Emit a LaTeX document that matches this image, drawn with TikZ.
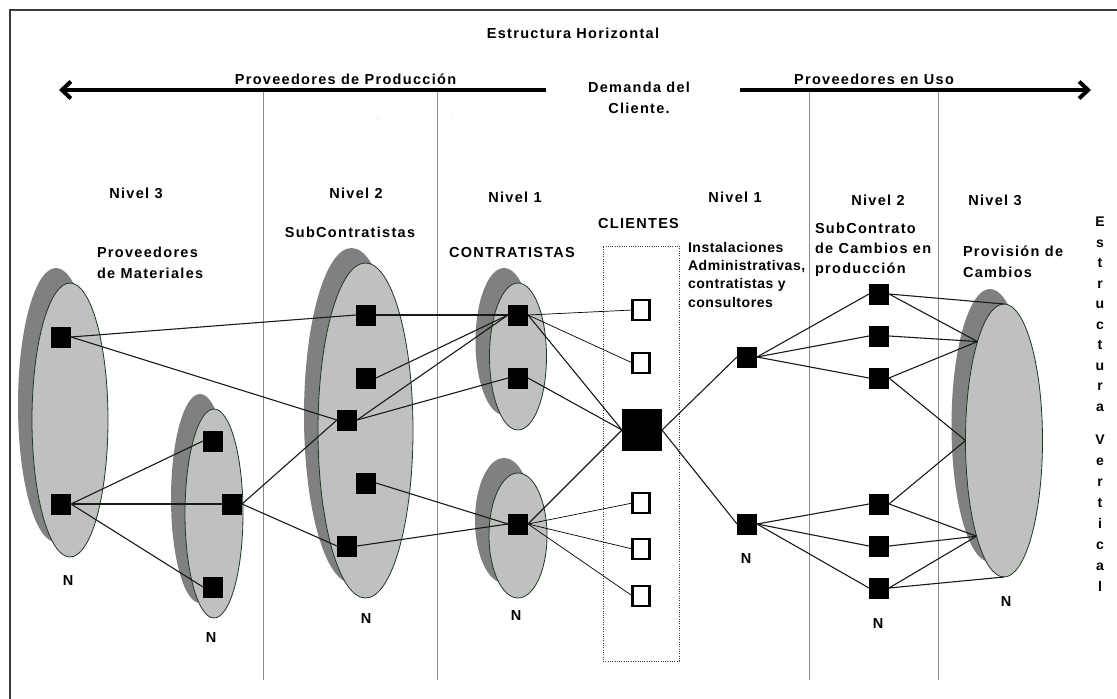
\documentclass[tikz,border=0pt]{standalone}
\usepackage{fontspec}
\setmainfont{Liberation Sans}[LetterSpace=9]
\usetikzlibrary{shapes.geometric,arrows.meta,shadows}

\definecolor{shadowgray}{HTML}{808080}
\definecolor{fillgray}{HTML}{C0C0C0}
\definecolor{rimcol}{HTML}{1E3A1E}
\definecolor{linkcol}{HTML}{141C14}
\definecolor{guidegray}{HTML}{8C8C8C}
\definecolor{framecol}{HTML}{3C3C3C}

\begin{document}
\begin{tikzpicture}[x=1pt,y=-1pt,
  every node/.style={inner sep=0pt, outer sep=0pt},
  lbl/.style={font=\fontsize{14.5}{20}\selectfont\bfseries, anchor=base},
  blk/.style={font=\fontsize{14.5}{#1}\selectfont\bfseries, anchor=north west, align=left},
  group/.style={ellipse, draw=rimcol, line width=0.8pt, fill=fillgray,
    general shadow={fill=shadowgray, shadow xshift=-14pt, shadow yshift=15pt}},
  firm/.style={rectangle, fill=black, minimum width=20pt, minimum height=21pt},
  client/.style={rectangle, draw=black, line width=2.6pt, fill=white,
    minimum width=17pt, minimum height=20pt},
  link/.style={draw=linkcol, line width=1.1pt},
  thinlink/.style={draw=black, line width=0.7pt},
  guide/.style={draw=guidegray, line width=0.8pt},
  flow/.style={line width=4pt, -{Straight Barb[length=9pt, width=17pt]}}
]
\useasboundingbox (0,0) rectangle (1117,699);

% outer frame (top and left edges)
\draw[framecol, line width=1.3pt] (10,699) -- (10,10) -- (1117,10);

% level separators
\draw[guide] (263,90) -- (263,680);
\draw[guide] (437.5,90) -- (437.5,680);
\draw[guide] (809,90) -- (809,680);
\draw[guide] (938,90) -- (938,680);

% horizontal structure arrows
\coordinate (pl0) at (546,90);
\coordinate (pl1) at (59,90);
\coordinate (pr0) at (740,90);
\coordinate (pr1) at (1091,90);
\draw[flow] (pl0) -- (pl1);
\draw[flow] (pr0) -- (pr1);

% supplier groups
\node[group, minimum width=76pt, minimum height=274pt] (matA) at (70,420) {};
\node[group, minimum width=58pt, minimum height=209pt] (matB) at (214,513.5) {};
\node[group, minimum width=95pt, minimum height=335pt] (sub) at (365.5,430.5) {};
\node[group, minimum width=57pt, minimum height=147pt] (conA) at (518,356.5) {};
\node[group, minimum width=58pt, minimum height=125pt] (conB) at (518,535.5) {};
\node[group, minimum width=77pt, minimum height=273pt] (prov) at (1004,440.5) {};

% client area
\node[draw=framecol, line width=0.8pt, dash pattern=on 1pt off 1.3pt,
      minimum width=76pt, minimum height=415pt] (clientbox) at (641,453.5) {};

% firms
\node[firm] (A1) at (61,337) {};
\node[firm] (A2) at (61,504) {};
\node[firm] (B1) at (213,441) {};
\node[firm] (B2) at (232,504) {};
\node[firm] (B3) at (213,587) {};
\node[firm] (C1) at (366,315) {};
\node[firm] (C2) at (366,378) {};
\node[firm] (C3) at (347,420) {};
\node[firm] (C4) at (366,483) {};
\node[firm] (C5) at (347,546) {};
\node[firm] (D1) at (518,315) {};
\node[firm] (D2) at (518,378) {};
\node[firm] (E1) at (518,524) {};
\node[firm] (F1) at (747,357) {};
\node[firm] (F2) at (747,524) {};
\node[firm] (G1) at (879,294) {};
\node[firm] (G2) at (879,336) {};
\node[firm] (G3) at (879,378) {};
\node[firm] (G4) at (879,504) {};
\node[firm] (G5) at (879,546) {};
\node[firm] (G6) at (879,588) {};
\node[rectangle, fill=black, minimum width=40pt, minimum height=42pt] (M) at (642,430) {};
\node[client] (K1) at (641,310) {};
\node[client] (K2) at (641,363) {};
\node[client] (K3) at (641,503) {};
\node[client] (K4) at (641,549) {};
\node[client] (K5) at (641,596) {};

% production-side links
\draw[link] (A1.east) -- (C1.west);
\draw[link] (A1.east) -- (C3.west);
\draw[link] (A2.east) -- (B1.west);
\draw[link] (A2.east) -- (B2.west);
\draw[link] (A2.east) -- (B3.west);
\draw[link] (B2.east) -- (C3.west);
\draw[link] (B2.east) -- (C5.west);
\draw[link] (C1.east) -- (D1.west);
\draw[link] (C2.east) -- (D1.west);
\draw[link] (C3.east) -- (D1.west);
\draw[link] (C3.east) -- (D2.west);
\draw[link] (C4.east) -- (E1.west);
\draw[link] (C5.east) -- (E1.west);
\draw[link] (D1.east) -- (M.west);
\draw[link] (D2.east) -- (M.west);
\draw[link] (E1.east) -- (M.west);
\draw[thinlink] (D1.east) -- (K1.west);
\draw[thinlink] (D1.east) -- (K2.west);
\draw[thinlink] (E1.east) -- (K3.west);
\draw[thinlink] (E1.east) -- (K4.west);
\draw[thinlink] (E1.east) -- (K5.west);

% use-side links
\draw[link] (M.east) -- (F1.west);
\draw[link] (M.east) -- (F2.west);
\draw[link] (F1.east) -- (G1.west);
\draw[link] (F1.east) -- (G2.west);
\draw[link] (F1.east) -- (G3.west);
\draw[link] (F2.east) -- (G4.west);
\draw[link] (F2.east) -- (G5.west);
\draw[link] (F2.east) -- (G6.west);
\draw[link] (G1.east) -- (prov.north);
\draw[link] (G1.east) -- (prov.105.5);
\draw[link] (G2.east) -- (prov.105.5);
\draw[link] (G3.east) -- (prov.105.5);
\draw[link] (G3.east) -- (prov.west);
\draw[link] (G4.east) -- (prov.west);
\draw[link] (G4.east) -- (prov.254.5);
\draw[link] (G5.east) -- (prov.254.5);
\draw[link] (G6.east) -- (prov.254.5);
\draw[link] (G6.east) -- (prov.south);

% redraw firms above their links
\foreach \f in {A1,A2,B1,B2,B3,C1,C2,C3,C4,C5,D1,D2,E1,F1,F2,G1,G2,G3,G4,G5,G6}
  \fill[black] (\f.south west) rectangle (\f.north east);
\fill[black] (M.south west) rectangle (M.north east);

% headings
\node[lbl] (title) at (573,38.5) {Estructura Horizontal};
\node[lbl] (prodarrow) at (345.5,84.5) {Proveedores de Producción};
\node[lbl] (usearrow) at (874,84.5) {Proveedores en Uso};
\node[font=\fontsize{14.5}{21}\selectfont\bfseries, align=center, anchor=north] (demand) at (639,81.8) {Demanda del\\Cliente.};
\node[font=\fontsize{5}{6}\selectfont, text=guidegray, anchor=center] (dotA) at (378,119) {:};
\node[font=\fontsize{5}{6}\selectfont, text=guidegray, anchor=center] (dotB) at (453,117) {:};

% level labels
\node[lbl] (lvl3L) at (136,198.5) {Nivel 3};
\node[lbl] (lvl2L) at (356,198.5) {Nivel 2};
\node[lbl] (lvl1L) at (515,202.5) {Nivel 1};
\node[lbl] (lvl1R) at (735,202.5) {Nivel 1};
\node[lbl] (lvl2R) at (878,205.5) {Nivel 2};
\node[lbl] (lvl3R) at (995,205.5) {Nivel 3};

% group labels
\node[blk=21] (matlbl) at (97,247) {Proveedores\\de Materiales};
\node[lbl] (sublbl) at (350,237.5) {SubContratistas};
\node[lbl] (conlbl) at (512,257.5) {CONTRATISTAS};
\node[lbl] (clilbl) at (638.5,228.5) {CLIENTES};
\node[blk=18.3, font=\fontsize{14}{18.3}\selectfont\bfseries\addfontfeatures{LetterSpace=4}] (instlbl) at (688,242)
  {Instalaciones\\Administrativas,\\contratistas y\\consultores};
\node[blk=20] (sclbl) at (815,223) {SubContrato\\de Cambios en\\producción};
\node[blk=21] (provlbl) at (963,246) {Provisión de\\Cambios};

% vertical heading
\node[font=\fontsize{14}{20.5}\selectfont\bfseries, align=center, anchor=north] (vert1) at (1100,217)
  {E\\s\\t\\r\\u\\c\\t\\u\\r\\a};
\node[font=\fontsize{14}{21}\selectfont\bfseries, align=center, anchor=north] (vert2) at (1100,435)
  {V\\e\\r\\t\\i\\c\\a\\l};

% multiplicity marks
\node[lbl] (nA) at (68,585.5) {N};
\node[lbl] (nB) at (211,642.5) {N};
\node[lbl] (nC) at (366,623.5) {N};
\node[lbl] (nD) at (516,620.5) {N};
\node[lbl] (nF) at (746,563.5) {N};
\node[lbl] (nG) at (878,628.5) {N};
\node[lbl] (nR) at (1006,606.5) {N};
\end{tikzpicture}
\end{document}
